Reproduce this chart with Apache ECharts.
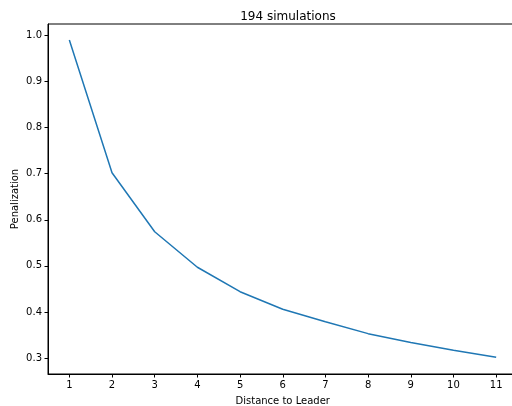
<!DOCTYPE html>
<html>
<head>
<meta charset="utf-8">
<script src="https://cdn.jsdelivr.net/npm/echarts@6/dist/echarts.min.js"></script>
<style>
  html, body { margin: 0; padding: 0; background: #fff; }
  #chart { width: 512px; height: 406px; }
</style>
</head>
<body>
<div id="chart"></div>
<script>
  // distances to leader and penalization
  const distances = [1, 2, 3, 4, 5, 6, 7, 8, 9, 10, 11]
  const penalization = [0.990, 0.702, 0.574, 0.497, 0.444, 0.406, 0.379, 0.353, 0.334, 0.317, 0.302]
  const xTicks = [1, 2, 3, 4, 5, 6, 7, 8, 9, 10, 11]
  const yTicks = [0.3, 0.4, 0.5, 0.6, 0.7, 0.8, 0.9, 1.0]

  const font = 'DejaVu Sans'
  const chart = echarts.init(document.getElementById('chart'))
  chart.setOption({
    animation: false,
    title: {
      text: '194 simulations',
      left: 283, top: 6, textAlign: 'center',
      textStyle: { fontFamily: font, fontSize: 12, fontWeight: 'normal', color: '#000' }
    },
    // the right spine falls just outside the picture
    grid: {
      left: 48, right: -5.5, top: 24, bottom: 32,
      outerBoundsMode: 'none', containLabel: false,
      show: true, borderColor: '#000', borderWidth: 1
    },
    xAxis: {
      type: 'value', min: 0.5, max: 11.5,
      name: 'Distance to Leader', nameLocation: 'middle', nameGap: 22,
      nameMoveOverlap: false,
      nameTextStyle: { fontFamily: font, fontSize: 10, color: '#000' },
      axisLine: { show: true, lineStyle: { color: '#000', width: 1 } },
      axisTick: { show: true, length: 3.5, customValues: xTicks, lineStyle: { color: '#000' } },
      axisLabel: { customValues: xTicks, fontFamily: font, fontSize: 10, color: '#000', margin: 6 },
      splitLine: { show: false }
    },
    yAxis: {
      type: 'value', min: 0.2655, max: 1.0245,
      name: 'Penalization', nameLocation: 'middle', nameGap: 28,
      nameMoveOverlap: false,
      nameTextStyle: { fontFamily: font, fontSize: 10, color: '#000' },
      axisLine: { show: true, lineStyle: { color: '#000', width: 1 } },
      axisTick: { show: true, length: 3.5, customValues: yTicks, lineStyle: { color: '#000' } },
      axisLabel: {
        customValues: yTicks, fontFamily: font, fontSize: 10, color: '#000', margin: 6,
        formatter: v => v.toFixed(1)
      },
      splitLine: { show: false }
    },
    series: [{
      type: 'line',
      data: distances.map((d, i) => [d, penalization[i]]),
      showSymbol: false,
      lineStyle: { color: '#1f77b4', width: 1.5 },
      itemStyle: { color: '#1f77b4' }
    }]
  })
</script>
</body>
</html>
